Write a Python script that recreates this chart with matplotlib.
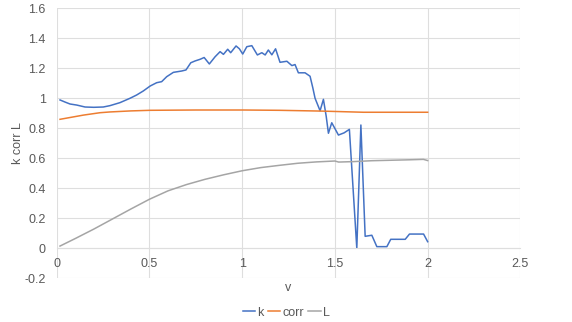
import matplotlib
matplotlib.use('Agg')
import matplotlib.pyplot as plt

plt.rcParams['font.family'] = ['Liberation Sans', 'DejaVu Sans']

# k curve
k_v = [0.018, 0.045, 0.072, 0.108, 0.153, 0.2, 0.251, 0.287, 0.341, 0.395, 0.431, 0.467,
       0.504, 0.539, 0.566, 0.593, 0.629, 0.674, 0.697, 0.723, 0.746, 0.773, 0.795, 0.823,
       0.854, 0.881, 0.899, 0.922, 0.938, 0.967, 0.985, 1.003, 1.025, 1.052, 1.082, 1.106,
       1.124, 1.141, 1.16, 1.18, 1.204, 1.241, 1.268, 1.285, 1.303, 1.339, 1.366, 1.381,
       1.393, 1.42, 1.438, 1.453, 1.465, 1.483, 1.519, 1.55, 1.578, 1.618, 1.64, 1.663,
       1.699, 1.726, 1.78, 1.801, 1.879, 1.902, 1.978, 2.0]
k = [0.989, 0.975, 0.962, 0.955, 0.942, 0.94, 0.942, 0.951, 0.971, 1.0, 1.022, 1.049,
     1.082, 1.104, 1.111, 1.144, 1.173, 1.182, 1.189, 1.237, 1.249, 1.26, 1.272, 1.229,
     1.277, 1.311, 1.293, 1.327, 1.304, 1.349, 1.33, 1.295, 1.344, 1.351, 1.289, 1.304,
     1.289, 1.322, 1.29, 1.33, 1.24, 1.247, 1.218, 1.225, 1.17, 1.17, 1.147, 1.069,
     1.0, 0.917, 0.993, 0.88, 0.767, 0.837, 0.755, 0.77, 0.793, 0.0, 0.822, 0.08,
     0.087, 0.011, 0.011, 0.06, 0.06, 0.095, 0.095, 0.044]

corr_v = [0.018, 0.144, 0.234, 0.287, 0.4, 0.503, 0.75, 1.006, 1.2, 1.42, 1.654, 1.8, 2.0]
corr = [0.86, 0.888, 0.904, 0.909, 0.916, 0.92, 0.922, 0.922, 0.92, 0.915, 0.907, 0.907, 0.907]

L_v = [0.018, 0.1, 0.2, 0.3, 0.4, 0.5, 0.6, 0.7, 0.8, 0.9, 1.0, 1.1, 1.2, 1.3, 1.4, 1.5,
       1.52, 1.6, 1.7, 1.8, 1.9, 1.977, 2.0]
L = [0.015, 0.065, 0.128, 0.195, 0.262, 0.327, 0.383, 0.425, 0.46, 0.49, 0.517, 0.538,
     0.553, 0.567, 0.576, 0.582, 0.575, 0.578, 0.584, 0.587, 0.59, 0.593, 0.585]

txt = '#595959'
grid = '#dedede'

fig = plt.figure(figsize=(5.72, 3.22), dpi=100)
ax = fig.add_axes([0.0991, 0.1357, 0.8107, 0.8385])

ax.plot(k_v, k, color='#4472C4', lw=1.1, label='k')
ax.plot(corr_v, corr, color='#ED7D31', lw=1.1, label='corr')
ax.plot(L_v, L, color='#A5A5A5', lw=1.1, label='L')

ax.set_xlim(0, 2.5)
ax.set_ylim(-0.2, 1.6)
ax.set_xticks([0, 0.5, 1, 1.5, 2, 2.5])
ax.set_xticklabels(['0', '0.5', '1', '1.5', '2', '2.5'])
ax.set_yticks([-0.2, 0, 0.2, 0.4, 0.6, 0.8, 1, 1.2, 1.4, 1.6])
ax.set_yticklabels(['-0.2', '0', '0.2', '0.4', '0.6', '0.8', '1', '1.2', '1.4', '1.6'])
ax.grid(True, color=grid, lw=0.8)
ax.set_axisbelow(True)

for s in ['top', 'right', 'left']:
    ax.spines[s].set_visible(False)
ax.spines['bottom'].set_position(('data', 0))
ax.spines['bottom'].set_color(grid)
ax.tick_params(length=0, colors=txt, labelsize=9)
ax.tick_params(axis='x', pad=7)
ax.tick_params(axis='y', pad=8)

ax.set_xlabel('v', color=txt, fontsize=9)
ax.set_ylabel('k corr L', color=txt, fontsize=9)
ax.xaxis.set_label_coords(0.5, -0.012)
ax.yaxis.set_label_coords(-0.07, 0.5)

fig.legend(loc='lower center', bbox_to_anchor=(0.5, -0.025), ncol=3, frameon=False,
           fontsize=9, labelcolor=txt, handlelength=1.0, handletextpad=0.15,
           columnspacing=0.35)

fig.savefig('out.png', dpi=100)
